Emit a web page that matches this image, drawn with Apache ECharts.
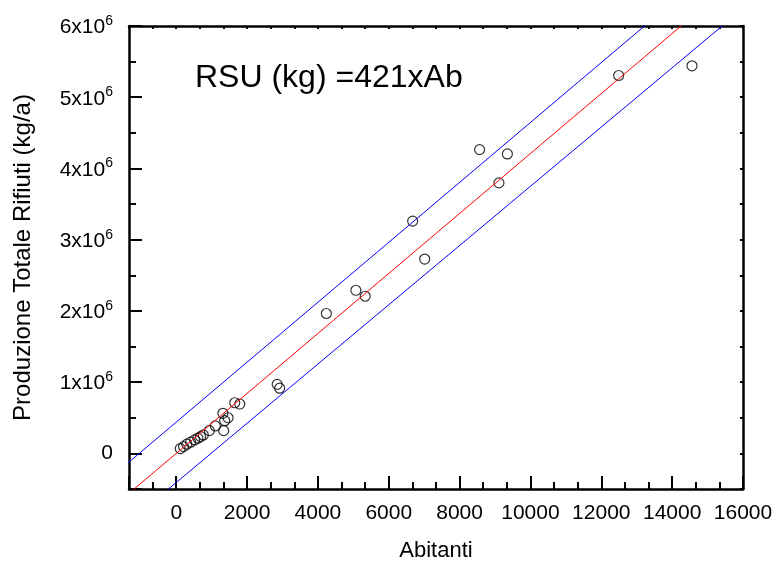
<!DOCTYPE html>
<html>
<head>
<meta charset="utf-8">
<script src="https://cdn.jsdelivr.net/npm/echarts@6/dist/echarts.min.js"></script>
<style>
  html, body { margin: 0; padding: 0; background: #fff; }
  #main { width: 779px; height: 565px; }
</style>
</head>
<body>
<div id="main"></div>
<script>
// abitanti vs produzione rifiuti (kg/a)
var abitanti = [113, 207, 300, 405, 518, 612, 688, 765, 935, 1105, 1340, 1317, 1368, 1463,
  1652, 1793, 2850, 2920, 4238, 5071, 5334, 6674, 7014, 8564, 9110, 9348, 12490, 14560];
var rifiuti = [67e3, 95e3, 129e3, 157e3, 189e3, 213e3, 235e3, 259e3, 319e3, 385e3, 319e3, 563e3, 459e3, 500e3,
  711e3, 693e3, 969e3, 915e3, 1964e3, 2290e3, 2206e3, 3261e3, 2728e3, 4265e3, 3798e3, 4204e3, 5305e3, 5441e3];

// retta di regressione e bande (estremi)
var fitLine = [[-1400, -589400], [16000, 6736000]];
var upperBand = [[-1400, -150000], [16000, 7170000]];
var lowerBand = [[-1400, -991000], [16000, 6245000]];

var xMin = -4000 / 3, xMax = 16000, xStep = 2000 / 3;
var yMin = -500000, yMax = 6000000, yStep = 500000;
var annotation = 'RSU (kg) =421xAb';

var font = 'Liberation Sans, Arial, sans-serif';
var lineStyle = { color: '#000', width: 2.5 };

var points = abitanti.map(function (x, i) { return [x, rifiuti[i]]; });

var myChart = echarts.init(document.getElementById('main'));
var option = {
  animation: false,
  backgroundColor: '#fff',
  grid: { left: 129, right: 36, top: 26, bottom: 76, containLabel: false, outerBoundsMode: 'none' },
  xAxis: [
    {
      type: 'value', position: 'bottom', min: xMin, max: xMax, interval: xStep,
      axisLine: { show: true, onZero: false, lineStyle: lineStyle },
      axisTick: { show: true, inside: true, length: 7, lineStyle: { color: '#000', width: 2 } },
      splitLine: { show: false },
      axisLabel: {
        color: '#000', fontFamily: font, fontSize: 21, margin: 14,
        showMinLabel: false,
        formatter: function (v) {
          var k = v / 2000;
          return Math.abs(k - Math.round(k)) < 1e-6 ? String(Math.round(k) * 2000) : '';
        }
      },
      name: 'Abitanti', nameLocation: 'middle', nameGap: 51,
      nameTextStyle: { color: '#000', fontFamily: font, fontSize: 22 }
    },
    {
      // major ticks (reversed so they start at 16000)
      type: 'value', position: 'bottom', inverse: true, min: 0, max: xMax - xMin, interval: 2000,
      axisLine: { show: false, onZero: false },
      axisTick: { show: true, inside: true, length: 13, lineStyle: { color: '#000', width: 2 } },
      axisLabel: { show: false }, splitLine: { show: false }
    },
    {
      type: 'value', position: 'top', min: xMin, max: xMax, interval: xStep,
      axisLine: { show: true, onZero: false, lineStyle: lineStyle },
      axisTick: { show: true, inside: true, length: 3, lineStyle: { color: '#000', width: 2 } },
      axisLabel: { show: false }, splitLine: { show: false }
    }
  ],
  yAxis: [
    {
      type: 'value', position: 'left', min: yMin, max: yMax, interval: yStep,
      axisLine: { show: true, onZero: false, lineStyle: lineStyle },
      axisTick: { show: true, inside: true, length: 7, lineStyle: { color: '#000', width: 2 } },
      splitLine: { show: false },
      axisLabel: {
        color: '#000', fontFamily: font, fontSize: 21, margin: 16,
        formatter: function (v) {
          var k = v / 1e6;
          if (Math.abs(k - Math.round(k)) > 1e-6) return '';
          k = Math.round(k);
          return k === 0 ? '{b|0}' : '{b|' + k + 'x10}{s|6}';
        },
        rich: {
          b: { fontFamily: font, fontSize: 21, color: '#000', verticalAlign: 'bottom' },
          s: { fontFamily: font, fontSize: 14, color: '#000', verticalAlign: 'bottom', padding: [0, 0, 10, 0] }
        }
      },
      name: 'Produzione Totale Rifiuti (kg/a)', nameLocation: 'middle', nameGap: 94,
      nameTextStyle: { color: '#000', fontFamily: font, fontSize: 24 }
    },
    {
      type: 'value', position: 'left', inverse: true, min: 0, max: yMax - yMin, interval: 1e6,
      axisLine: { show: false, onZero: false },
      axisTick: { show: true, inside: true, length: 13, lineStyle: { color: '#000', width: 2 } },
      axisLabel: { show: false }, splitLine: { show: false }
    },
    {
      type: 'value', position: 'right', min: yMin, max: yMax, interval: yStep,
      axisLine: { show: true, onZero: false, lineStyle: lineStyle },
      axisTick: { show: true, inside: true, length: 3, lineStyle: { color: '#000', width: 2 } },
      axisLabel: { show: false }, splitLine: { show: false }
    }
  ],
  graphic: [
    {
      type: 'text', left: 195, top: 62,
      style: { text: annotation, font: '32px ' + font, fill: '#000' }
    }
  ],
  series: [
    {
      type: 'line', data: upperBand, symbol: 'none', silent: true,
      lineStyle: { color: '#0000ff', width: 1 }, clip: true
    },
    {
      type: 'line', data: lowerBand, symbol: 'none', silent: true,
      lineStyle: { color: '#0000ff', width: 1 }, clip: true
    },
    {
      type: 'line', data: fitLine, symbol: 'none', silent: true,
      lineStyle: { color: '#ff0000', width: 1 }, clip: true
    },
    {
      type: 'scatter', data: points, symbol: 'circle', symbolSize: 10,
      itemStyle: { color: 'rgba(0,0,0,0)', borderColor: '#000', borderWidth: 1.2 }
    }
  ]
};
myChart.setOption(option);
</script>
</body>
</html>
